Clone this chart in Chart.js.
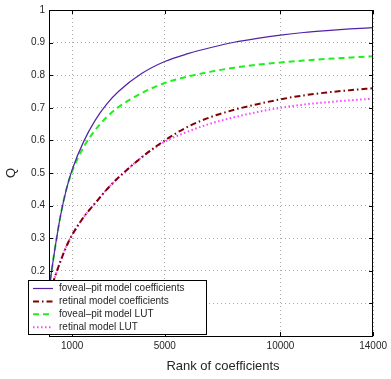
<!DOCTYPE html>
<html>
<head>
<meta charset="utf-8">
<script src="https://cdn.jsdelivr.net/npm/chart.js@4.4.1/dist/chart.umd.min.js"></script>
<style>
  html, body { margin: 0; padding: 0; background: #fff; }
  #wrap { width: 391px; height: 379px; }
</style>
</head>
<body>
<div id="wrap"><canvas id="qChart" width="391" height="379"></canvas></div>
<script>
// ======================================
// DATA
// ======================================
const rank = [0, 100, 250, 500, 750, 1000, 1500, 2000, 2500, 3000, 4000,
              5000, 6000, 7000, 8000, 9000, 10000, 11000, 12000, 13000, 14000];

const fovealCoeff = [0.14, 0.193, 0.265, 0.37, 0.45, 0.51, 0.597, 0.662, 0.712, 0.750, 0.805,
                     0.842, 0.866, 0.885, 0.901, 0.913, 0.923, 0.931, 0.937, 0.942, 0.946];
const retinalCoeff = [0.12, 0.145, 0.18, 0.23, 0.275, 0.31, 0.365, 0.408, 0.45, 0.486, 0.548,
                      0.60, 0.642, 0.672, 0.694, 0.711, 0.726, 0.738, 0.747, 0.754, 0.760];
const fovealLut = [0.14, 0.193, 0.265, 0.37, 0.45, 0.505, 0.58, 0.632, 0.672, 0.702, 0.745,
                   0.776, 0.796, 0.811, 0.823, 0.832, 0.839, 0.845, 0.85, 0.854, 0.858];
const retinalLut = [0.12, 0.145, 0.18, 0.23, 0.275, 0.31, 0.365, 0.408, 0.45, 0.486, 0.548,
                    0.596, 0.627, 0.652, 0.671, 0.687, 0.70, 0.71, 0.717, 0.723, 0.728];

const xTicks = [1000, 5000, 10000, 14000];
const yTicks = [0, 0.1, 0.2, 0.3, 0.4, 0.5, 0.6, 0.7, 0.8, 0.9, 1];

const seriesNames = ['foveal\u2013pit model coefficients', 'retinal model coefficients',
                     'foveal\u2013pit model LUT', 'retinal model LUT'];

// ======================================
// STYLES
// ======================================
const FONT = '"Liberation Sans", Arial, sans-serif';
const TEXT = '#262626';
const STYLES = [
  { color: '#5222a6', width: 1.2, dash: [] },
  { color: '#800000', width: 2, dash: [6, 3, 1.5, 3] },
  { color: '#1ef01e', width: 2, dash: [6, 4] },
  { color: '#ff40ff', width: 2, dash: [1.5, 2.5] }
];

function toPoints(ys) {
  return rank.map((x, i) => ({ x: x, y: ys[i] }));
}

const datasets = [fovealCoeff, retinalCoeff, fovealLut, retinalLut].map((ys, i) => ({
  label: seriesNames[i],
  data: toPoints(ys),
  borderColor: STYLES[i].color,
  borderWidth: STYLES[i].width,
  borderDash: STYLES[i].dash,
  pointRadius: 0,
  cubicInterpolationMode: 'monotone',
  fill: false
}));

// box, inward ticks, x title and legend, matlab style
const matlabDecor = {
  id: 'matlabDecor',
  afterDatasetsDraw(chart) {
    const { ctx, chartArea: a, scales } = chart;
    ctx.save();
    ctx.strokeStyle = '#000';
    ctx.lineWidth = 1;
    ctx.setLineDash([]);
    ctx.strokeRect(Math.round(a.left) + 0.5, Math.round(a.top) + 0.5,
                   Math.round(a.right - a.left) - 1, Math.round(a.bottom - a.top));
    ctx.beginPath();
    yTicks.forEach(v => {
      const y = Math.round(scales.y.getPixelForValue(v)) + 0.5;
      ctx.moveTo(a.left, y); ctx.lineTo(a.left + 4, y);
      ctx.moveTo(a.right - 4, y); ctx.lineTo(a.right, y);
    });
    xTicks.forEach(v => {
      const x = Math.round(scales.x.getPixelForValue(v)) + 0.5;
      ctx.moveTo(x, a.bottom); ctx.lineTo(x, a.bottom - 4);
      ctx.moveTo(x, a.top); ctx.lineTo(x, a.top + 4);
    });
    ctx.stroke();
    ctx.restore();
  },
  afterDraw(chart) {
    const { ctx } = chart;
    ctx.save();
    // x axis title
    ctx.fillStyle = TEXT;
    ctx.font = '13px ' + FONT;
    ctx.textAlign = 'center';
    ctx.textBaseline = 'middle';
    ctx.fillText('Rank of coefficients', 223, 366);

    // legend box
    const lx = 28, ly = 280, lw = 178, lh = 54;
    ctx.fillStyle = '#fff';
    ctx.fillRect(lx, ly, lw, lh);
    ctx.strokeStyle = '#000';
    ctx.lineWidth = 1;
    ctx.strokeRect(lx + 0.5, ly + 0.5, lw, lh);
    ctx.font = '10px ' + FONT;
    ctx.textAlign = 'left';
    seriesNames.forEach((name, i) => {
      const y = ly + 8.5 + i * 12.9;
      ctx.beginPath();
      ctx.strokeStyle = STYLES[i].color;
      ctx.lineWidth = STYLES[i].width;
      ctx.setLineDash(STYLES[i].dash);
      ctx.moveTo(lx + 5, y);
      ctx.lineTo(lx + 25, y);
      ctx.stroke();
      ctx.setLineDash([]);
      ctx.fillStyle = TEXT;
      ctx.fillText(name, lx + 31, y);
    });
    ctx.restore();
  }
};

document.addEventListener('DOMContentLoaded', function() {
  const ctx = document.getElementById('qChart').getContext('2d');
  new Chart(ctx, {
    type: 'line',
    data: { datasets: datasets },
    options: {
      responsive: false,
      animation: false,
      layout: { padding: { top: 7, right: 14, left: 0, bottom: 0 } },
      plugins: { legend: { display: false }, tooltip: { enabled: false } },
      scales: {
        x: {
          type: 'linear',
          min: 0,
          max: 14000,
          afterBuildTicks: s => { s.ticks = xTicks.map(v => ({ value: v })); },
          afterFit: s => { s.height = 43; },
          ticks: { color: TEXT, font: { family: FONT, size: 10 }, padding: 4, maxRotation: 0,
                   callback: v => String(v) },
          grid: { color: '#a8a8a8', lineWidth: 1, drawTicks: false },
          border: { display: false, dash: [1, 3] }
        },
        y: {
          min: 0,
          max: 1,
          afterBuildTicks: s => { s.ticks = yTicks.map(v => ({ value: v })); },
          afterFit: s => { s.width = 49; },
          ticks: { color: TEXT, font: { family: FONT, size: 10 }, padding: 4,
                   callback: v => (v < 0.15 ? '' : (v === 1 ? '1' : v.toFixed(1))) },
          grid: { color: '#a8a8a8', lineWidth: 1, drawTicks: false },
          border: { display: false, dash: [1, 3] },
          title: { display: true, text: 'Q', color: TEXT, font: { family: FONT, size: 13 }, padding: { top: 4, bottom: 0 } }
        }
      }
    },
    plugins: [matlabDecor]
  });
});
</script>
</body>
</html>
